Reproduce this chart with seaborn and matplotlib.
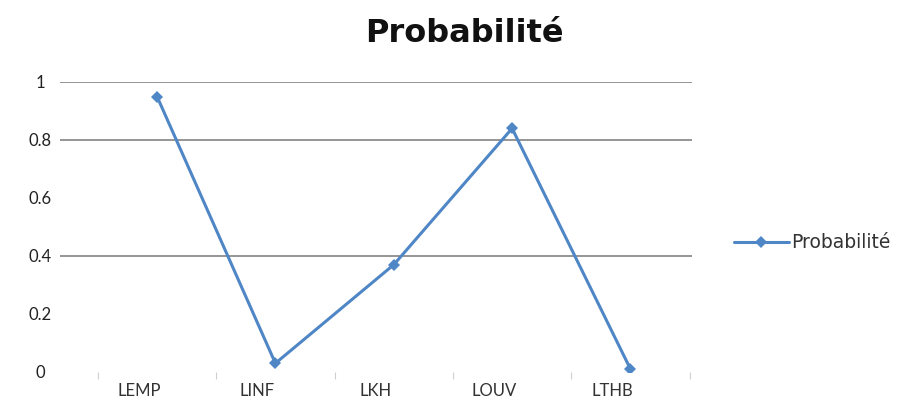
import matplotlib
matplotlib.use("Agg")
import matplotlib.pyplot as plt
import matplotlib.transforms as mtransforms
import seaborn as sns
import pandas as pd
import numpy as np

categories = ["LEMP", "LINF", "LKH", "LOUV", "LTHB"]
probabilite = [0.95, 0.03, 0.37, 0.84, 0.01]
y_ticks = [0, 0.2, 0.4, 0.6, 0.8, 1]
y_tick_labels = ["0", "0.2", "0.4", "0.6", "0.8", "1"]
grid_levels = [0.4, 0.8, 1.0]

sns.set_theme(style="white")
plt.rcParams["font.family"] = ["Lato", "DejaVu Sans"]

df = pd.DataFrame({"pos": np.arange(len(categories)), "Probabilité": probabilite})

fig = plt.figure(figsize=(9.12, 4.18), dpi=100)
ax = fig.add_axes([60 / 912, 1 - 372 / 418, (692 - 60) / 912, 290 / 418])

blue = "#4f86c6"
for g in grid_levels:
    ax.axhline(g, color="#8c8c8c", linewidth=1.3, zorder=1)

sns.lineplot(data=df, x="pos", y="Probabilité", ax=ax, color=blue,
             linewidth=2.2, marker="D", markersize=6, markeredgewidth=0,
             label="Probabilité", zorder=3)

ax.set_xlim(-0.82, 4.52)
ax.set_ylim(0, 1)
ax.set_yticks(y_ticks)
ax.set_yticklabels(y_tick_labels, fontsize=12, color="#222222", ha="center")
ax.set_xticks(df["pos"])
ax.set_xticklabels(categories, fontsize=12, color="#333333")
ax.tick_params(axis="x", which="major", length=0, pad=8)
ax.tick_params(axis="y", length=0, pad=14)
ax.set_xticks(np.arange(-0.5, len(categories), 1.0), minor=True)
ax.tick_params(axis="x", which="minor", bottom=True, length=5, width=0.8,
               color="#d0d0d0", direction="out", pad=0)

# shift category labels slightly left, as in the spreadsheet layout
shift = mtransforms.ScaledTranslation(-18 / 100, 0, fig.dpi_scale_trans)
for lbl in ax.get_xticklabels():
    lbl.set_transform(lbl.get_transform() + shift)

for s in ax.spines.values():
    s.set_visible(False)
ax.set_xlabel("")
ax.set_ylabel("")

fig.text(464 / 912, 1 - 33 / 418, "Probabilité", ha="center", va="center",
         fontsize=23, fontweight="bold", color="#111111", family="DejaVu Sans")

leg = ax.legend(loc="center left", bbox_to_anchor=(1.04, 0.445), frameon=False,
                handlelength=2.9, handletextpad=0.15,
                prop={"family": "DejaVu Sans", "size": 13.5})
for t in leg.get_texts():
    t.set_color("#333333")

fig.savefig("out.png", dpi=100)
